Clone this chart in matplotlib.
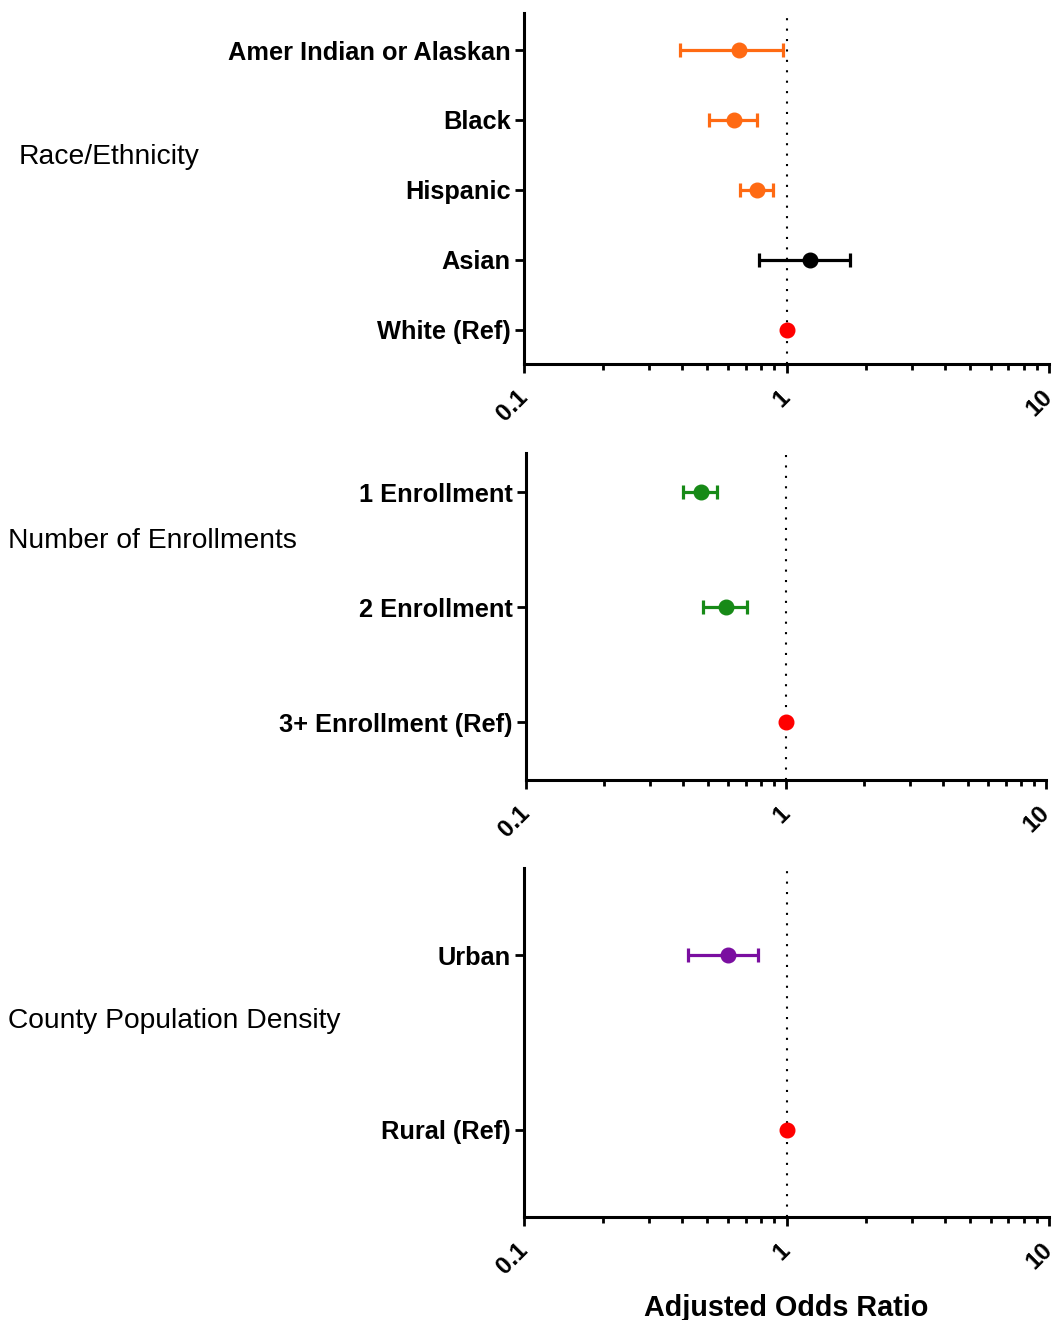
import matplotlib
matplotlib.use("Agg")
import matplotlib.pyplot as plt
from matplotlib.ticker import LogLocator, NullFormatter, FixedLocator

plt.rcParams['font.family'] = ['Liberation Sans', 'DejaVu Sans']

# ---- data ----
race_labels = ["White (Ref)", "Asian", "Hispanic", "Black", "Amer Indian or Alaskan"]
race_or = [1.0, 1.23, 0.77, 0.63, 0.66]
race_lo = [1.0, 0.785, 0.663, 0.507, 0.394]
race_hi = [1.0, 1.75, 0.887, 0.771, 0.966]
race_colors = ["#FF0000", "#000000", "#FF6A13", "#FF6A13", "#FF6A13"]

enr_labels = ["3+ Enrollment (Ref)", "2 Enrollment", "1 Enrollment"]
enr_or = [1.0, 0.59, 0.47]
enr_lo = [1.0, 0.48, 0.40]
enr_hi = [1.0, 0.71, 0.545]
enr_colors = ["#FF0000", "#178A17", "#178A17"]

dens_labels = ["Rural (Ref)", "Urban"]
dens_or = [1.0, 0.60]
dens_lo = [1.0, 0.42]
dens_hi = [1.0, 0.78]
dens_colors = ["#FF0000", "#7A0EA0"]

group_titles = ["Race/Ethnicity", "Number of Enrollments", "County Population Density"]
xticks = [0.1, 1, 10]
xtick_labels = ["0.1", "1", "10"]

W, H = 1057, 1320
fig = plt.figure(figsize=(W / 100, H / 100), dpi=100)


def make_ax(px_left, px_right, px_top, px_bottom):
    return fig.add_axes([px_left / W, 1 - px_bottom / H,
                         (px_right - px_left) / W, (px_bottom - px_top) / H])


def draw(ax, labels, orv, lo, hi, colors, ylim):
    ax.axvline(1, color="black", lw=1.5, ls=(0, (1, 4)), zorder=1)
    for i, (o, l, h, c) in enumerate(zip(orv, lo, hi, colors)):
        if h > l:
            ax.errorbar([o], [i], xerr=[[o - l], [h - o]], fmt="none", ecolor=c,
                        elinewidth=2.3, capsize=4.8, capthick=2.3, zorder=2)
        ax.plot([o], [i], "o", color=c, markersize=10.5, zorder=3)
    ax.set_xscale("log")
    ax.set_xlim(0.1, 10)
    ax.set_ylim(*ylim)
    ax.set_yticks(range(len(labels)))
    ax.set_yticklabels(labels, fontsize=18.3, fontweight="bold")
    ax.xaxis.set_major_locator(FixedLocator(xticks))
    ax.xaxis.set_minor_locator(LogLocator(base=10, subs=range(2, 10)))
    ax.xaxis.set_minor_formatter(NullFormatter())
    ax.set_xticklabels(xtick_labels, fontsize=17.5, fontweight="bold",
                       rotation=45, ha="right", va="center", rotation_mode="anchor")
    for s in ["top", "right"]:
        ax.spines[s].set_visible(False)
    for s in ["left", "bottom"]:
        ax.spines[s].set_linewidth(2.2)
    ax.tick_params(axis="both", which="major", length=6.5, width=2.0, pad=3)
    ax.tick_params(axis="x", which="minor", length=4, width=2.0)
    ax.tick_params(axis="x", which="major", pad=15)


ax1 = make_ax(524, 1049, 13, 364)
draw(ax1, race_labels, race_or, race_lo, race_hi, race_colors, (-0.49, 4.53))
ax2 = make_ax(526, 1046, 453, 780)
draw(ax2, enr_labels, enr_or, enr_lo, enr_hi, enr_colors, (-0.5, 2.34))
ax3 = make_ax(524, 1049, 868, 1217)
draw(ax3, dens_labels, dens_or, dens_lo, dens_hi, dens_colors, (-0.5, 1.5))
ax3.set_xlabel("Adjusted Odds Ratio", fontsize=20.7, fontweight="bold", labelpad=11)

fig.text(19 / W, 1 - 157 / H, group_titles[0], fontsize=20.3, ha="left", va="center")
fig.text(8 / W, 1 - 541 / H, group_titles[1], fontsize=20.3, ha="left", va="center")
fig.text(8 / W, 1 - 1021 / H, group_titles[2], fontsize=20.3, ha="left", va="center")

fig.savefig("out.png", dpi=100)
